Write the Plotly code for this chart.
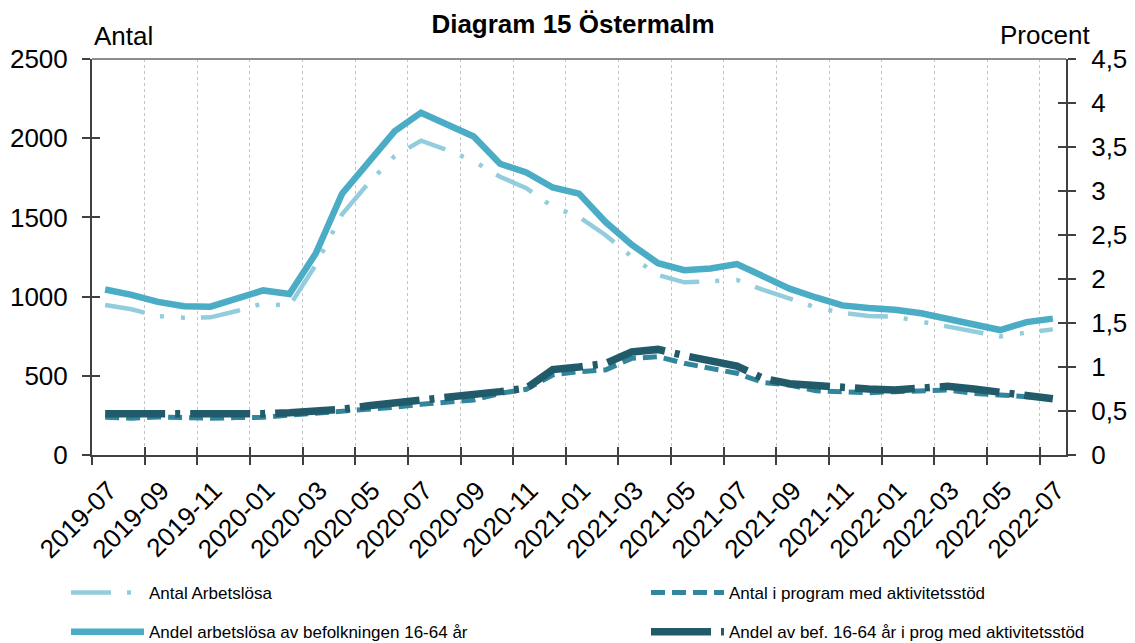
import plotly.graph_objects as go

months = ["2019-07","2019-08","2019-09","2019-10","2019-11","2019-12",
          "2020-01","2020-02","2020-03","2020-04","2020-05","2020-06",
          "2020-07","2020-08","2020-09","2020-10","2020-11","2020-12",
          "2021-01","2021-02","2021-03","2021-04","2021-05","2021-06",
          "2021-07","2021-08","2021-09","2021-10","2021-11","2021-12",
          "2022-01","2022-02","2022-03","2022-04","2022-05","2022-06",
          "2022-07"]
tick_labels = months[::2]

antal_arbetslosa = [947, 920, 877, 867, 869, 909, 957, 941, 1200, 1520, 1715, 1888,
                    1984, 1925, 1855, 1757, 1684, 1568, 1504, 1389, 1252, 1136, 1090, 1098,
                    1105, 1042, 989, 932, 898, 877, 873, 842, 810, 779, 749, 772, 793]
antal_program = [238, 232, 240, 236, 232, 236, 238, 252, 263, 274, 284, 301,
                 320, 336, 347, 389, 415, 505, 526, 537, 610, 621, 579, 547,
                 516, 457, 442, 406, 403, 393, 400, 406, 410, 389, 379, 364, 358]
andel_arbetslosa = [1.88, 1.82, 1.74, 1.69, 1.685, 1.77, 1.87, 1.83, 2.29, 2.97, 3.32, 3.68,
                    3.89, 3.75, 3.62, 3.31, 3.21, 3.04, 2.97, 2.65, 2.39, 2.18, 2.10, 2.12,
                    2.17, 2.03, 1.89, 1.79, 1.70, 1.67, 1.65, 1.61, 1.55, 1.49, 1.42, 1.51, 1.55]
andel_program = [0.47, 0.47, 0.47, 0.46, 0.45, 0.46, 0.47, 0.48, 0.49, 0.52, 0.56, 0.59,
                 0.62, 0.65, 0.67, 0.72, 0.76, 0.97, 1.00, 1.04, 1.17, 1.20, 1.13, 1.06,
                 1.01, 0.87, 0.81, 0.79, 0.76, 0.75, 0.74, 0.77, 0.78, 0.75, 0.72, 0.69, 0.64]

left_ticks = [0, 500, 1000, 1500, 2000, 2500]
right_ticks = [0, 0.5, 1, 1.5, 2, 2.5, 3, 3.5, 4, 4.5]
right_tick_text = ["0", "0,5", "1", "1,5", "2", "2,5", "3", "3,5", "4", "4,5"]

xs = list(range(len(months)))
tick_pos = [i - 0.5 for i in range(0, len(months), 2)]

FONT = "Liberation Sans, Arial, sans-serif"
AXC = "#404040"
TICKF = 26
LEGF = 17
# the page body adds an 8px offset; the figure is sized to fill the rest of the window
W, H = 1127, 635

fig = go.Figure()
fig.add_trace(go.Scatter(x=xs, y=antal_arbetslosa, name="Antal Arbetslösa", mode="lines",
                         line=dict(color="#93CDDD", width=4.5, dash="40px,16px,4px,17px,4px,16px"),
                         yaxis="y", legend="legend", legendgroup="a"))
fig.add_trace(go.Scatter(x=xs, y=antal_program, name="Antal i program med aktivitetsstöd", mode="lines",
                         line=dict(color="#31859C", width=5, dash="14px,7px"),
                         yaxis="y", legend="legend2", legendgroup="b"))
fig.add_trace(go.Scatter(x=xs, y=andel_arbetslosa, name="Andel arbetslösa av befolkningen 16-64 år", mode="lines",
                         line=dict(color="#4BACC6", width=6.5),
                         yaxis="y2", legend="legend", legendgroup="c"))
fig.add_trace(go.Scatter(x=xs, y=andel_program, name="Andel av bef. 16-64 år i prog med aktivitetsstöd", mode="lines",
                         line=dict(color="#215A69", width=7.5, dash="60px,10px,5px,10px"),
                         yaxis="y2", legend="legend2", legendgroup="d"))
# empty helper traces so the inner halves of the crossing tick marks get drawn
fig.add_trace(go.Scatter(x=[None], y=[None], xaxis="x2", yaxis="y3", showlegend=False, hoverinfo="skip"))
fig.add_trace(go.Scatter(x=[None], y=[None], xaxis="x", yaxis="y4", showlegend=False, hoverinfo="skip"))

leg_common = dict(orientation="v", xanchor="left", yref="container", yanchor="top",
                  y=1 - 567 / H, xref="container", itemwidth=73, tracegroupgap=14,
                  font=dict(family=FONT, size=LEGF, color="black"), bgcolor="rgba(0,0,0,0)")

fig.update_layout(
    width=W, height=H,
    margin=dict(l=84, r=69, t=51, b=188, autoexpand=False),
    paper_bgcolor="white", plot_bgcolor="white",
    font=dict(family=FONT, size=TICKF, color="black"),
    title=dict(text="<b>Diagram 15 Östermalm</b>", x=565 / W, xref="container", xanchor="center",
               y=1 - 15.5 / H, yref="container", yanchor="middle",
               font=dict(family=FONT, size=26, color="black")),
    xaxis=dict(range=[-0.5, len(months) - 0.5], tickmode="array", tickvals=tick_pos, ticktext=tick_labels,
               tickangle=-45, ticklabelshift=17, ticks="outside", ticklen=8, tickcolor=AXC, tickwidth=1.5,
               showline=True, linecolor=AXC, linewidth=2, automargin=False,
               showgrid=True, gridcolor="#c4c4c4", griddash="dot", gridwidth=1, zeroline=False,
               tickfont=dict(size=TICKF)),
    xaxis2=dict(overlaying="x", anchor="y", range=[-0.5, len(months) - 0.5],
                tickmode="array", tickvals=tick_pos, ticks="inside", ticklen=8, tickcolor=AXC, tickwidth=1.5,
                showticklabels=False, showgrid=False, showline=False, zeroline=False, automargin=False),
    yaxis=dict(range=[0, 2500], tickmode="array", tickvals=left_ticks, ticks="outside", ticklen=8,
               tickcolor=AXC, tickwidth=1.5, showline=True, linecolor=AXC, linewidth=2, automargin=False,
               showgrid=False, zeroline=False, tickfont=dict(size=TICKF), ticklabelstandoff=9),
    yaxis2=dict(range=[0, 4.5], overlaying="y", side="right", tickmode="array", tickvals=right_ticks,
                ticktext=right_tick_text, ticks="outside", ticklen=8, tickcolor=AXC, tickwidth=1.5,
                showline=True, linecolor=AXC, linewidth=2, showgrid=False, zeroline=False, automargin=False,
                tickfont=dict(size=TICKF), ticklabelstandoff=10),
    yaxis3=dict(range=[0, 2500], overlaying="y", side="left", anchor="x2", tickmode="array",
                tickvals=left_ticks, ticks="inside", ticklen=8, tickcolor=AXC, tickwidth=1.5,
                showticklabels=False, showgrid=False, showline=False, zeroline=False, automargin=False),
    yaxis4=dict(range=[0, 4.5], overlaying="y", side="right", anchor="x", tickmode="array",
                tickvals=right_ticks, ticks="inside", ticklen=8, tickcolor=AXC, tickwidth=1.5,
                showticklabels=False, showgrid=False, showline=False, zeroline=False, automargin=False),
    legend=dict(x=58 / W, **leg_common),
    legend2=dict(x=638 / W, **leg_common),
    shapes=[dict(type="line", xref="paper", yref="paper", x0=0, x1=1, y0=1, y1=1,
                 line=dict(color="#8c8c8c", width=2))],
    annotations=[
        dict(text="Antal", xref="paper", yref="paper", x=0, y=(455 - 35.5) / 396,
             xanchor="left", yanchor="middle", showarrow=False, font=dict(family=FONT, size=TICKF)),
        dict(text="Procent", xref="paper", yref="paper", x=(1045 - 92) / 974, y=(455 - 35) / 396,
             xanchor="center", yanchor="middle", showarrow=False, font=dict(family=FONT, size=TICKF)),
    ],
)

fig.write_html("out.html")
